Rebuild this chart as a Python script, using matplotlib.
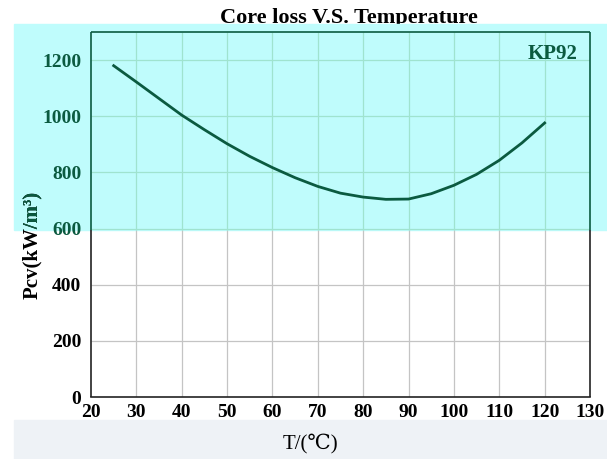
import matplotlib
matplotlib.use("Agg")
from matplotlib import pyplot as plt
from matplotlib.patches import Rectangle
from matplotlib.transforms import Bbox, TransformedBbox

# curve
temp = [25, 30, 35, 40, 45, 50, 55, 60, 65, 70, 75, 80, 85, 90, 95, 100, 105, 110, 115, 120]
pcv = [1180, 1122, 1063, 1004, 952, 902, 857, 817, 781, 750, 726, 712, 704, 705, 724, 754, 793, 843, 905, 976]

x_ticks = [20, 30, 40, 50, 60, 70, 80, 90, 100, 110, 120, 130]
y_ticks = [0, 200, 400, 600, 800, 1000, 1200]

green = "#0b5a40"
teal_grid = "#9fe3cf"
grey_grid = "#c4c4c4"
cyan = "#bffcfc"
split = 595  # where the cyan block ends, in data units

serif = ["Liberation Serif", "DejaVu Serif", "DejaVu Sans"]

fig = plt.figure(figsize=(6.07, 4.59), dpi=100)
ax = fig.add_axes([91 / 607, 1 - 397 / 459, 499 / 607, 365 / 459])
ax.patch.set_alpha(0)

cyan_box = (14 / 607, 1 - 230 / 459, 1, 1 - 24 / 459)
fig.patches.append(Rectangle((cyan_box[0], cyan_box[1]), 1, cyan_box[3] - cyan_box[1],
                             transform=fig.transFigure, color=cyan, zorder=-1))
fig.patches.append(Rectangle((14 / 607, 0), 1, 39 / 459,
                             transform=fig.transFigure, color="#eef2f6", zorder=-1))

fig.text(349 / 607, 1 - 18 / 459, "Core loss V.S. Temperature", ha="center", va="center",
         fontsize=16, fontweight="bold", family=serif, zorder=-2)

ax.set_xlim(20, 130)
ax.set_ylim(0, 1300)

# grid, coloured by region
for xv in x_ticks[1:-1]:
    ax.vlines(xv, 0, split, color=grey_grid, lw=0.9)
    ax.vlines(xv, split, 1300, color=teal_grid, lw=0.9)
for yv in y_ticks[1:]:
    ax.hlines(yv, 20, 130, color=grey_grid if yv < split else teal_grid, lw=0.9)

for s in ["left", "right", "top"]:
    ax.spines[s].set_visible(False)
ax.spines["bottom"].set_color("#222222")
ax.spines["bottom"].set_linewidth(1.2)
ax.hlines(1300, 20, 130, color=green, lw=1.2, clip_on=False)
ax.vlines([20, 130], 0, split, color="#222222", lw=1.2, clip_on=False)
ax.vlines([20, 130], split, 1300, color=green, lw=1.2, clip_on=False)

ax.plot(temp, pcv, color=green, lw=2)

ax.set_xticks(x_ticks)
ax.set_yticks(y_ticks)
ax.tick_params(length=0)
ax.tick_params(axis="y", pad=7)
ax.tick_params(axis="x", pad=5)
for lab in ax.get_xticklabels() + ax.get_yticklabels():
    lab.set_fontfamily(serif)
    lab.set_fontweight("bold")
    lab.set_fontsize(14)
for lab, yv in zip(ax.get_yticklabels(), y_ticks):
    lab.set_color(green if yv >= 600 else "black")

ax.text(0.975, 0.94, "KP92", transform=ax.transAxes, ha="right", va="center",
        fontsize=15, fontweight="bold", family=serif, color=green)

# y label: black, with the part inside the cyan block in green
for col, clip in [("black", False), (green, True)]:
    t = fig.text(32 / 607, 1 - 245 / 459, "Pcv(kW/m³)", rotation=90, ha="center", va="center",
                 fontsize=15, fontweight="bold", family=serif, color=col)
    if clip:
        t.set_clip_box(TransformedBbox(Bbox.from_extents(*cyan_box), fig.transFigure))
        t.set_clip_on(True)

fig.text(310 / 607, 1 - 444 / 459, "T/(℃)", ha="center", va="center",
         fontsize=15, family=serif)

fig.savefig("out.png", dpi=100)
